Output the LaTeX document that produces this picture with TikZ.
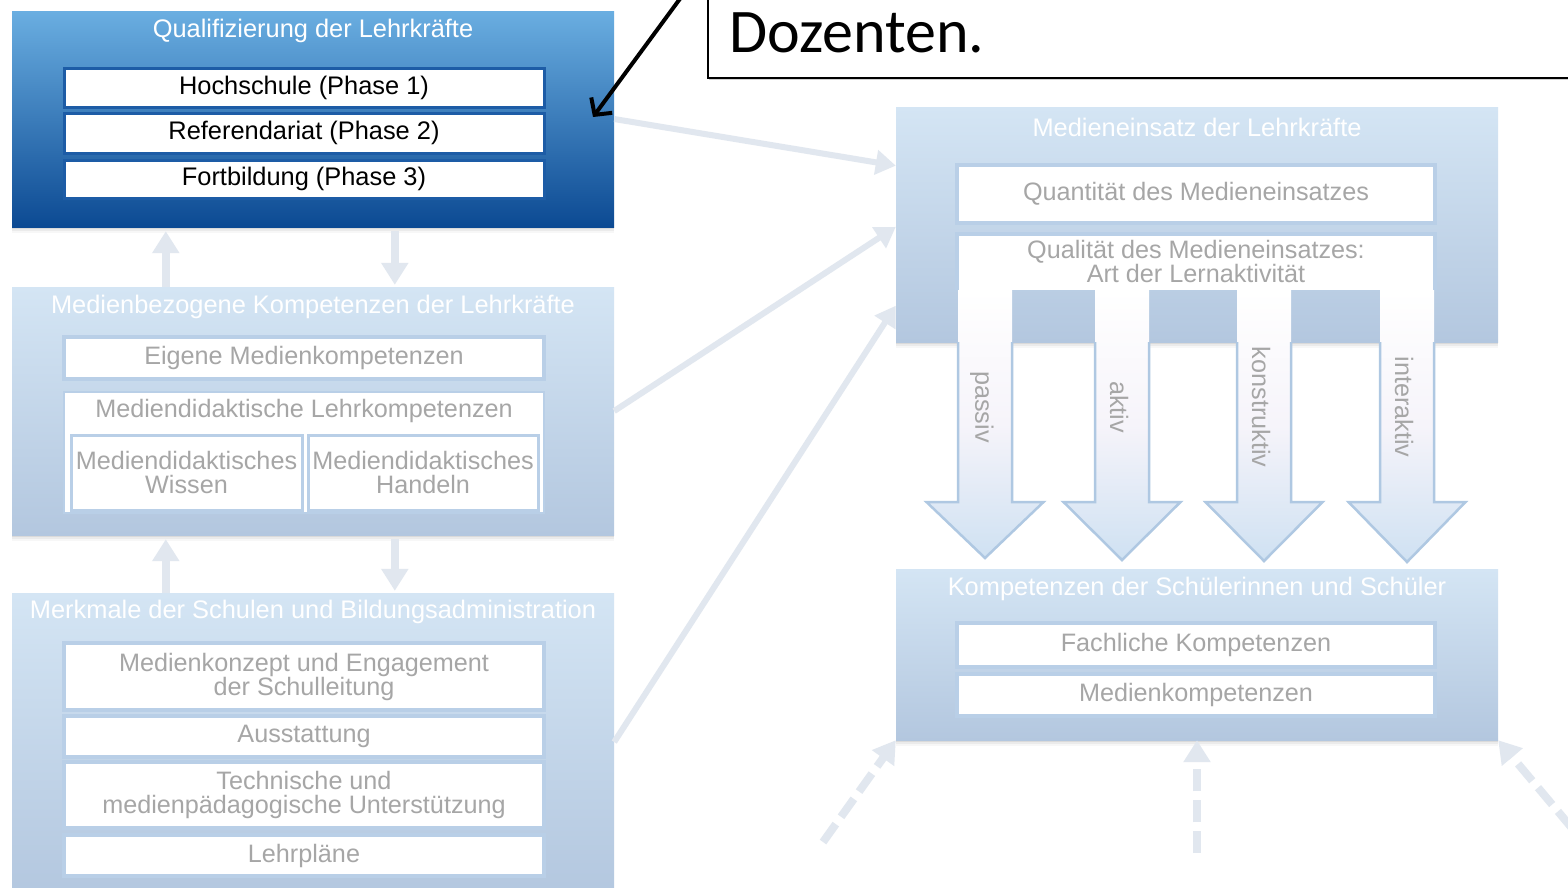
\documentclass[tikz,border=0pt]{standalone}
\usepackage{fontspec}
\setmainfont{Liberation Sans}
\newfontfamily\calloutfont{Carlito}
\usetikzlibrary{arrows.meta,shadows,calc}

\definecolor{darktop}{HTML}{6AAEE1}
\definecolor{darkbot}{HTML}{0C4A93}
\definecolor{lighttop}{HTML}{D4E5F4}
\definecolor{lightbot}{HTML}{B3C7DF}
\definecolor{itemline}{HTML}{B9CFE7}
\definecolor{darkline}{HTML}{1D5CA6}
\definecolor{greytext}{HTML}{A6A6A6}
\definecolor{linkcol}{HTML}{E1E7EF}
\definecolor{shaftline}{HTML}{AFC8E2}
\definecolor{shaftbot}{HTML}{CFE1F2}
\definecolor{shaftmid}{HTML}{F6F4FA}

\tikzset{
  softshadow/.style={
    drop shadow={shadow xshift=0pt, shadow yshift=-2pt, opacity=.10, fill=black!70},
    drop shadow={shadow xshift=0pt, shadow yshift=-4pt, opacity=.07, fill=black!70},
    drop shadow={shadow xshift=0pt, shadow yshift=-6pt, opacity=.04, fill=black!70}},
  panel/.style={rectangle, inner sep=0pt, softshadow},
  darkpanel/.style={panel, top color=darktop, bottom color=darkbot},
  lightpanel/.style={panel, top color=lighttop, bottom color=lightbot},
  paneltitle/.style={text=white, inner sep=0pt, font=\fontsize{25.4}{25}\selectfont},
  darkitem/.style={rectangle, draw=darkline, line width=3pt, fill=white, text=black,
    inner sep=0pt, align=center, font=\fontsize{25.4}{24}\selectfont},
  lightitem/.style={rectangle, draw=itemline, line width=3.5pt, fill=white, text=greytext,
    inner sep=0pt, align=center, font=\fontsize{25.2}{24}\selectfont},
  greylabel/.style={text=greytext, inner sep=0pt, align=center, font=\fontsize{25.2}{24}\selectfont},
  link/.style={draw=linkcol, line width=6pt, -{Triangle[length=20pt,width=24pt]}},
  shortlink/.style={draw=linkcol, line width=8pt, -{Triangle[length=22pt,width=26pt]}},
  dashlink/.style={draw=linkcol, line width=8pt, dash pattern=on 22pt off 9pt,
    -{Triangle[length=22pt,width=26pt]}},
}

\begin{document}
\begin{tikzpicture}[x=1pt, y=-1pt]
  \clip (0,0) rectangle (1568,887);
  \fill[white] (0,0) rectangle (1568,887);

  % ---------- left column: panels ----------
  \node[darkpanel, minimum width=602pt, minimum height=216pt] (qual) at (313,119) {};
  \node[paneltitle] (qualtitle) at (313,31) {Qualifizierung der Lehrkräfte};
  \node[darkitem, minimum width=480pt, minimum height=39pt] (hoch) at (304,87.5) {Hochschule (Phase 1)};
  \node[darkitem, minimum width=480pt, minimum height=40pt] (ref) at (304,133) {Referendariat (Phase 2)};
  \node[darkitem, minimum width=480pt, minimum height=38pt] (fort) at (304,179) {Fortbildung (Phase 3)};

  \node[lightpanel, minimum width=602pt, minimum height=248pt] (medkomp) at (313,411) {};
  \node[paneltitle] (medkomptitle) at (313,307) {Medienbezogene Kompetenzen der Lehrkräfte};
  \node[lightitem, minimum width=480pt, minimum height=42pt] (eigene) at (304,358) {Eigene Medienkompetenzen};
  \node[lightitem, line width=2pt, minimum width=480pt, minimum height=121pt] (lehrk) at (304,452.5) {};
  \node[greylabel] (lehrktitle) at (304,411) {Mediendidaktische Lehrkompetenzen};
  \node[lightitem, line width=3pt, minimum width=231pt, minimum height=75pt] (wissen) at (186.5,472.5)
    {Mediendidaktisches\\Wissen};
  \node[lightitem, line width=3pt, minimum width=230pt, minimum height=75pt] (handeln) at (423,472.5)
    {Mediendidaktisches\\Handeln};

  \node[lightpanel, minimum width=602pt, minimum height=302pt] (merkmale) at (313,744) {};
  \node[paneltitle] (merkmaletitle) at (313,612) {Merkmale der Schulen und Bildungsadministration};
  \node[lightitem, minimum width=480pt, minimum height=67pt] (konzept) at (304,676.5)
    {Medienkonzept und Engagement\\der Schulleitung};
  \node[lightitem, minimum width=480pt, minimum height=41pt] (ausst) at (304,736.5) {Ausstattung};
  \node[lightitem, minimum width=480pt, minimum height=66pt] (techn) at (304,795)
    {Technische und\\medienpädagogische Unterstützung};
  \node[lightitem, minimum width=480pt, minimum height=41pt] (lehrpl) at (304,855.5) {Lehrpläne};

  % ---------- right column: panels ----------
  \node[lightpanel, minimum width=602pt, minimum height=235pt] (einsatz) at (1197,224.5) {};
  \node[paneltitle] (einsatztitle) at (1197,127) {Medieneinsatz der Lehrkräfte};
  \node[lightitem, minimum width=478pt, minimum height=58pt] (quant) at (1196,194) {Quantität des Medieneinsatzes};

  % block arrows for the kinds of learning activity
  \foreach \cx/\lab/\tipy in {985/passiv/558, 1122/aktiv/560, 1264/konstruktiv/561, 1407/interaktiv/562} {
    \path[top color=white, bottom color=shaftbot, middle color=shaftmid]
      (\cx-27,290) -- (\cx-27,502) -- (\cx-58.5,502) -- (\cx,\tipy) -- (\cx+58.5,502)
      -- (\cx+27,502) -- (\cx+27,290) -- cycle;
    \draw[shaftline, line width=2.5pt, line join=miter]
      (\cx-27,342) -- (\cx-27,502) -- (\cx-58.5,502) -- (\cx,\tipy) -- (\cx+58.5,502)
      -- (\cx+27,502) -- (\cx+27,342);
    \node[greylabel, rotate=-90] (lbl-\lab) at (\cx-3,407) {\lab};
  }

  \node[rectangle, fill=white, inner sep=0pt, minimum width=478pt, minimum height=56pt] (qualit) at (1196,262) {};
  \draw[itemline, line width=3.5pt] (qualit.south west) -- (qualit.north west) -- (qualit.north east) -- (qualit.south east);
  \node[greylabel] (qualittext) at (1196,261) {Qualität des Medieneinsatzes:\\Art der Lernaktivität};

  \node[lightpanel, minimum width=602pt, minimum height=171pt] (komp) at (1197,654.5) {};
  \node[paneltitle] (komptitle) at (1197,589) {Kompetenzen der Schülerinnen und Schüler};
  \node[lightitem, minimum width=478pt, minimum height=44pt] (fach) at (1196,645) {Fachliche Kompetenzen};
  \node[lightitem, minimum width=478pt, minimum height=42pt] (medk) at (1196,695) {Medienkompetenzen};

  % ---------- connectors ----------
  \draw[shortlink, shorten >=4pt] ([xshift=154pt]medkomp.north west) -- ([xshift=154pt]qual.south west);
  \draw[shortlink, shorten >=2pt, shorten <=4pt] ([xshift=383pt]qual.south west) -- ([xshift=383pt]medkomp.north west);
  \draw[shortlink, shorten >=4pt] ([xshift=154pt]merkmale.north west) -- ([xshift=154pt]medkomp.south west);
  \draw[shortlink, shorten >=2pt, shorten <=4pt] ([xshift=383pt]medkomp.south west) -- ([xshift=383pt]merkmale.north west);

  \draw[link] (qual.east) -- ($(einsatz.north west)!0.25!(einsatz.south west)$);
  \draw[link] (medkomp.east) -- ($(einsatz.north west)!0.51!(einsatz.south west)$);
  \draw[link] ([yshift=2pt]merkmale.east) -- ($(einsatz.north west)!0.845!(einsatz.south west)$);

  \coordinate (inleft) at (823,842);
  \coordinate (inmid) at (1197,853);
  \coordinate (inright) at (1592,852);
  \draw[dashlink] (inleft) -- (komp.south west);
  \draw[dashlink] (inmid) -- (komp.south);
  \draw[dashlink] (inright) -- (komp.south east);

  % ---------- callout ----------
  \node[rectangle, draw=black, line width=1.5pt, fill=white, inner sep=0pt,
        minimum width=892pt, minimum height=98pt,
        drop shadow={shadow xshift=1pt, shadow yshift=-2pt, opacity=.3, fill=black!60}] (callout) at (1154,29) {};
  \node[anchor=base west, inner sep=0pt, font=\calloutfont\fontsize{62}{62}\selectfont] (callouttext) at (729,52) {Dozenten.};
  \coordinate (callfrom) at (682,-4);
  \coordinate (callto) at (593,117);
  \draw[line width=4pt, -{Straight Barb[length=12pt,width=26pt]}] (callfrom) -- (callto);
\end{tikzpicture}
\end{document}
